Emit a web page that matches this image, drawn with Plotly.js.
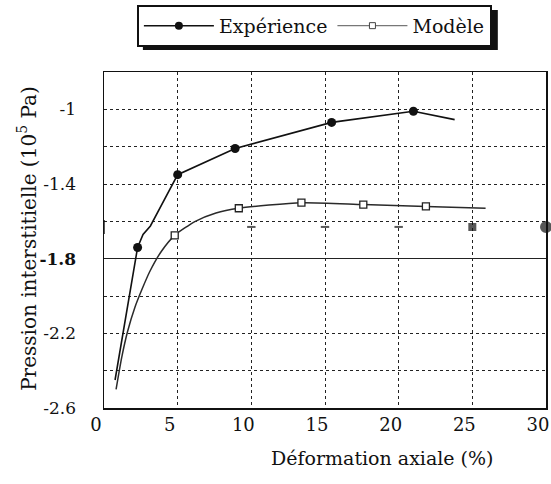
<!DOCTYPE html>
<html>
<head>
<meta charset="utf-8">
<script src="https://cdn.plot.ly/plotly-3.0.1.min.js"></script>
<style>html,body{margin:0;padding:0;background:#fff;}#chart{width:551px;height:484px;}</style>
</head>
<body>
<div id="chart"></div>
<script>
// Expérience (filled circles)
const expX = [0.75, 2.28, 2.65, 3.15, 5.0, 8.9, 15.45, 21.0, 23.8];
const expY = [-2.45, -1.74, -1.67, -1.625, -1.35, -1.21, -1.07, -1.01, -1.055];
const expMarked = [0, 1, 0, 0, 1, 1, 1, 1, 0];

// Modèle (open squares)
const modX = [0.82, 1.2, 1.6, 2.1, 2.6, 3.1, 3.9, 4.8, 6.2, 7.6, 9.15, 13.4, 17.6, 21.85, 25.9];
const modY = [-2.50, -2.33, -2.19, -2.06, -1.96, -1.87, -1.76, -1.675, -1.60, -1.555, -1.53, -1.50, -1.51, -1.52, -1.53];
const modMarked = [0, 0, 0, 0, 0, 0, 0, 1, 0, 0, 1, 1, 1, 1, 0];

// stray marks of the scanned figure along y ≈ -1.63
const strayX = [0, 10, 15, 20, 25, 30];
const strayY = [-1.63, -1.63, -1.63, -1.63, -1.63, -1.63];

const xTicks = [0, 5, 10, 15, 20, 25, 30];
const yTicks = [-2.6, -2.2, -1.8, -1.4, -1.0];
const yTickText = ['-2.6', '-2.2', '<b>-1.8</b>', '-1.4', '-1'];

const FONT = '"DejaVu Serif", serif';

const pick = (arr, flags) => arr.filter((v, i) => flags[i]);

const traces = [
  {x: expX, y: expY, type: 'scatter', mode: 'lines', showlegend: false, hoverinfo: 'skip',
   line: {color: '#111', width: 1.6}, cliponaxis: false},
  {x: modX, y: modY, type: 'scatter', mode: 'lines', showlegend: false, hoverinfo: 'skip',
   line: {color: '#2a2a2a', width: 1.5, shape: 'spline', smoothing: 0.6}, cliponaxis: false},
  {x: pick(expX, expMarked), y: pick(expY, expMarked), type: 'scatter', mode: 'markers', showlegend: false,
   marker: {symbol: 'circle', color: '#111', size: 9}, cliponaxis: false},
  {x: pick(modX, modMarked), y: pick(modY, modMarked), type: 'scatter', mode: 'markers', showlegend: false,
   marker: {symbol: 'square', color: '#fff', size: 7, line: {width: 1.3, color: '#222'}}, cliponaxis: false},
  {x: strayX, y: strayY, type: 'scatter', mode: 'markers', showlegend: false, hoverinfo: 'skip',
   marker: {symbol: ['line-ns', 'line-ew', 'line-ew', 'line-ew', 'square', 'circle'],
            size: [10, 6, 6, 6, 6, 10], color: '#111', line: {width: 2, color: '#111'}},
   cliponaxis: false},
  {x: [null], y: [null], name: 'Expérience', type: 'scatter', mode: 'lines+markers',
   line: {color: '#111', width: 1.5}, marker: {symbol: 'circle', color: '#111', size: 8}},
  {x: [null], y: [null], name: 'Modèle', type: 'scatter', mode: 'lines+markers',
   line: {color: '#777', width: 1.3}, marker: {symbol: 'square', color: '#fff', size: 6, line: {width: 1, color: '#444'}}},
  {x: [0], y: [-1.8], yaxis: 'y2', type: 'scatter', mode: 'markers',
   marker: {size: 0, opacity: 0}, showlegend: false, hoverinfo: 'skip'}
];

const layout = {
  width: 551, height: 484,
  margin: {l: 104, r: 5, t: 72, b: 76},
  paper_bgcolor: '#fff', plot_bgcolor: '#fff',
  font: {family: FONT, color: '#111', size: 18},
  showlegend: true,
  legend: {
    orientation: 'h', x: 0.476, xanchor: 'center', y: 1.2, yanchor: 'top',
    bordercolor: '#111', borderwidth: 2, bgcolor: '#fff', itemwidth: 70,
    font: {family: FONT, size: 19, color: '#111'}
  },
  shapes: [
    // drop shadow of the legend box
    {type: 'rect', xref: 'paper', yref: 'paper', x0: 0.088, x1: 0.891, y0: 1.0655, y1: 1.1845,
     fillcolor: '#111', line: {width: 0}, layer: 'above'}
  ],
  xaxis: {
    range: [0, 30], tickvals: xTicks, ticktext: xTicks.map(String),
    showgrid: true, gridcolor: '#222', gridwidth: 1, griddash: 'dot',
    zeroline: false, showline: true, linecolor: '#111', linewidth: 1.5, mirror: true,
    ticks: '', tickfont: {family: FONT, size: 18}, automargin: false,
    ticklabeloverflow: 'allow', ticklabelshift: -8
  },
  yaxis: {
    range: [-2.6, -0.8], tickvals: yTicks, ticktext: yTickText,
    showgrid: true, gridcolor: '#222', gridwidth: 1, griddash: 'dot',
    minor: {dtick: 0.2, tick0: -2.6, showgrid: true, gridcolor: '#222', gridwidth: 1, griddash: 'dot'},
    zeroline: false, showline: true, linecolor: '#111', linewidth: 1.5, mirror: true,
    ticks: '', ticklabelstandoff: 23, tickfont: {family: FONT, size: 17}, automargin: false
  },
  yaxis2: {
    overlaying: 'y', range: [-2.6, -0.8], tickvals: [-1.8], showticklabels: false,
    showgrid: true, gridcolor: '#222', gridwidth: 1.3, zeroline: false, showline: false, ticks: ''
  },
  annotations: [
    {text: 'Déformation axiale (%)', xref: 'paper', yref: 'paper', x: 0.629, y: -0.149,
     xanchor: 'center', yanchor: 'middle', showarrow: false, font: {family: FONT, size: 19, color: '#111'}},
    {text: 'Pression interstitielle (10<sup>5</sup> Pa)', xref: 'paper', yref: 'paper', x: -0.173, y: 0.505,
     xanchor: 'center', yanchor: 'middle', textangle: -90, showarrow: false, font: {family: FONT, size: 20, color: '#111'}}
  ]
};

Plotly.newPlot('chart', traces, layout, {displayModeBar: false, staticPlot: true});
</script>
</body>
</html>
